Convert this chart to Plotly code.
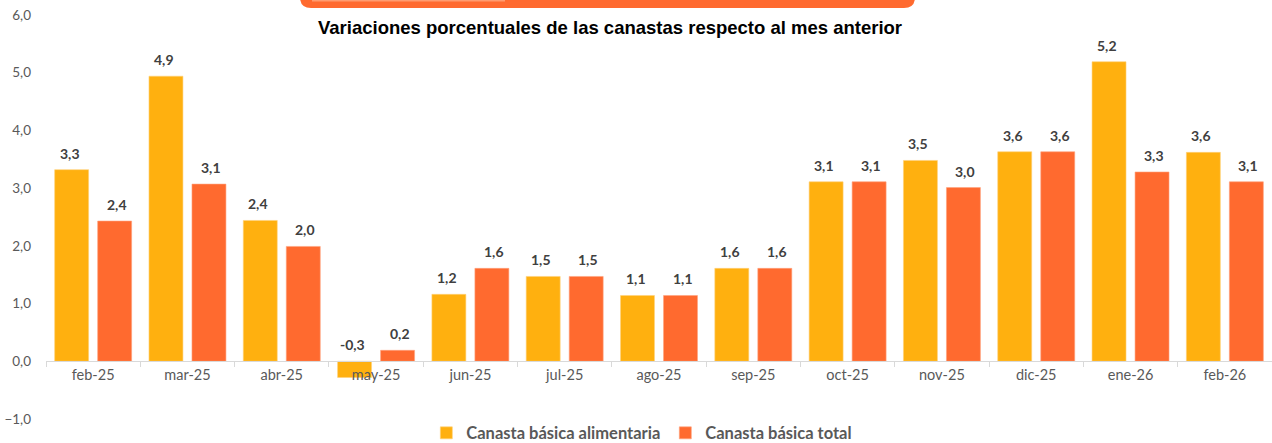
import plotly.graph_objects as go

categorias = ["feb-25", "mar-25", "abr-25", "may-25", "jun-25", "jul-25", "ago-25",
              "sep-25", "oct-25", "nov-25", "dic-25", "ene-26", "feb-26"]
alimentaria = [3.32, 4.94, 2.44, -0.28, 1.16, 1.47, 1.14, 1.61, 3.11, 3.48, 3.63, 5.19, 3.62]
total = [2.43, 3.07, 1.99, 0.19, 1.61, 1.47, 1.14, 1.61, 3.11, 3.01, 3.63, 3.28, 3.11]
y_ticks = [-1, 0, 1, 2, 3, 4, 5, 6]

titulo = "Variaciones porcentuales de las canastas respecto al mes anterior"
serie1 = "Canasta básica alimentaria"
serie2 = "Canasta básica total"

C_YEL = "#FFB00F"
C_ORA = "#FF6A2F"
GRAY = "#595959"
FONT = "Lato"

fig = go.Figure()
fig.add_trace(go.Bar(x=categorias, y=alimentaria, name=serie1,
                     marker=dict(color=C_YEL, line=dict(color="#FFD27A", width=0.6))))
fig.add_trace(go.Bar(x=categorias, y=total, name=serie2,
                     marker=dict(color=C_ORA, line=dict(color="#FFA27E", width=0.6))))

def fmt(v):
    return f"{v:.1f}".replace(".", ",")

ann = []
for i, c in enumerate(categorias):
    for v, dx in ((alimentaria[i], -23.5), (total[i], 23.5)):
        ann.append(dict(x=c, y=max(v, 0), xref="x", yref="y", text=fmt(v),
                        showarrow=False, yanchor="bottom", xshift=dx, yshift=6,
                        font=dict(family=FONT, size=14, color="#404040", weight="bold")))

ann.append(dict(x=0.46, y=0.970, xref="paper", yref="paper", text=titulo,
                showarrow=False, xanchor="center", yanchor="middle",
                font=dict(family="Liberation Sans", size=18.5, color="#000000", weight="bold")))

# decorative orange header box (cut off at top)
x0, x1 = (300 - 46) / 1226, (915 - 46) / 1226
yb, yt = (419 - 8) / 404, 1.2
rx, ry = 11 / 1226, 11 / 404
path = (f"M {x0},{yt} L {x0},{yb+ry} Q {x0},{yb} {x0+rx},{yb} "
        f"L {x1-rx},{yb} Q {x1},{yb} {x1},{yb+ry} L {x1},{yt} Z")
shapes = [dict(type="path", path=path, xref="paper", yref="paper",
               fillcolor="#FF6A2F", line=dict(width=0), layer="above"),
          dict(type="rect", xref="paper", yref="paper",
               x0=(312 - 46) / 1226, x1=(505 - 46) / 1226, y0=(419 - 1.5) / 404, y1=yt,
               fillcolor="#FF9B70", line=dict(width=0), layer="above")]

fig.update_layout(
    width=1272, height=443,
    margin=dict(l=46, r=0, t=15, b=24, autoexpand=False),
    paper_bgcolor="white", plot_bgcolor="white",
    separators=",.",
    barmode="group", bargap=0.088, bargroupgap=0.21,
    showlegend=True,
    legend=dict(orientation="h", x=0.486, xanchor="center", y=-0.035, yanchor="middle",
                font=dict(family=FONT, size=16.5, color=GRAY, weight="bold"),
                itemwidth=30, tracegroupgap=0, bgcolor="rgba(0,0,0,0)"),
    annotations=ann,
    shapes=shapes,
    xaxis=dict(anchor="free", position=1 / 7, showline=True, linecolor="#D9D9D9", linewidth=1,
               ticks="outside", tickson="boundaries", ticklen=5, tickcolor="#D9D9D9",
               tickfont=dict(family=FONT, size=14.5, color=GRAY), showgrid=False,
               fixedrange=True),
    yaxis=dict(range=[-1, 6], tickvals=y_ticks, tickformat=".1f", showgrid=False,
               zeroline=False, showline=False, ticks="", ticklabelstandoff=14,
               tickfont=dict(family=FONT, size=13.5, color=GRAY)),
)

fig.write_html("out.html")
